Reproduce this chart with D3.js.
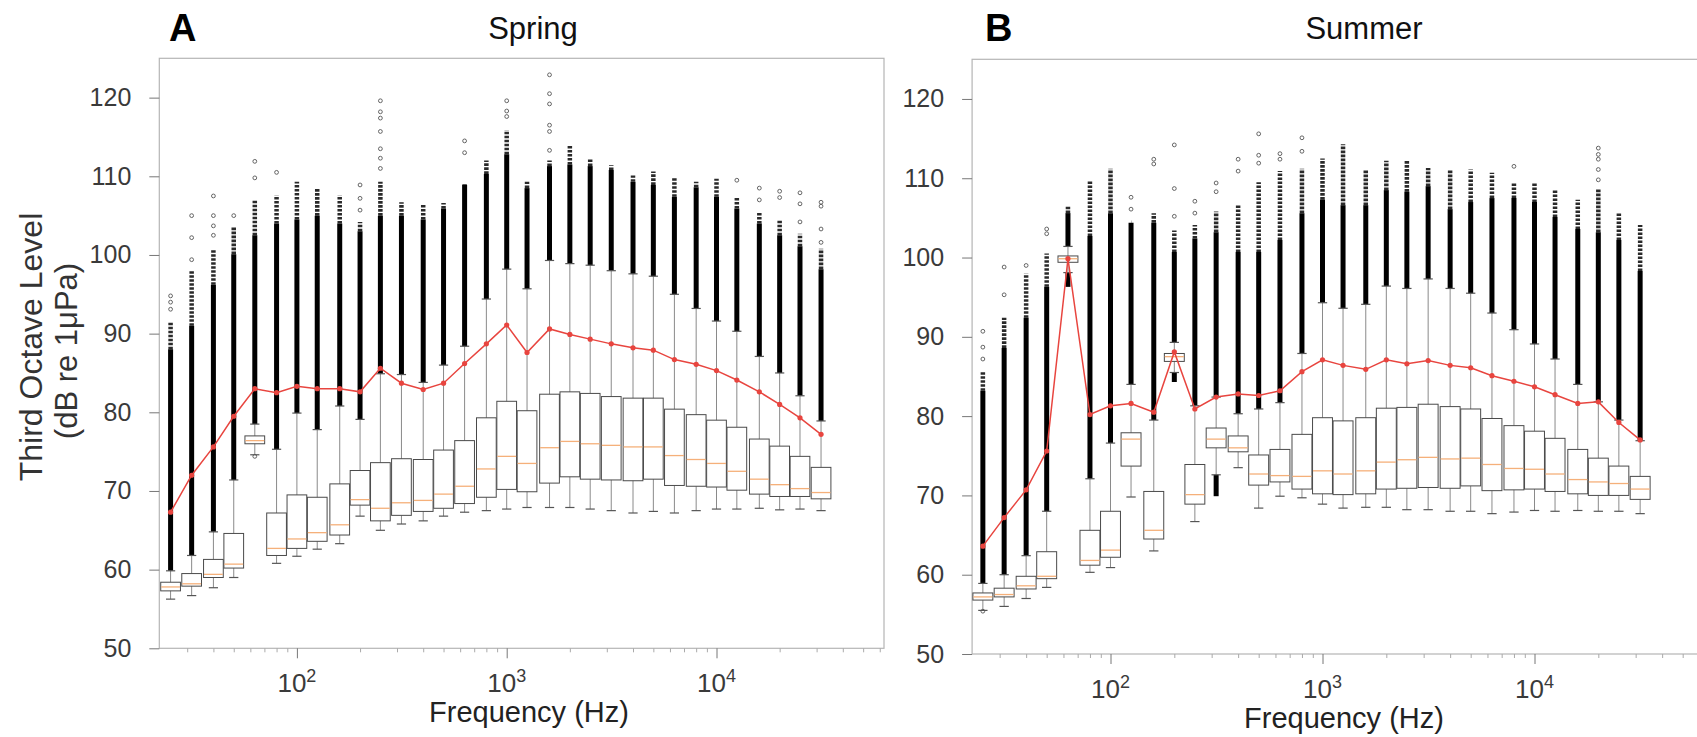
<!DOCTYPE html>
<html>
<head>
<meta charset="utf-8">
<script src="https://cdnjs.cloudflare.com/ajax/libs/d3/7.8.5/d3.min.js"></script>
<style>
body { margin: 0; background: #fff; }
svg { display: block; font-family: "Liberation Sans", Arial, Helvetica, sans-serif; }
</style>
</head>
<body>
<div id="chart"></div>
<script>
// third-octave band centre frequencies (Hz)
var freqs = [25, 31.5, 40, 50, 63, 80, 100, 125, 160, 200, 250, 315, 400, 500, 630, 800,
    1000, 1250, 1600, 2000, 2500, 3150, 4000, 5000, 6300, 8000, 10000, 12500, 16000, 20000, 25000, 31500];
var yTicks = [50, 60, 70, 80, 90, 100, 110, 120];
var xMajor = [100, 1000, 10000];

// Spring (dB re 1uPa)
var springLow  = [56.25, 56.7, 57.7, 59.0, 74.6, 60.8, 61.7, 62.6, 63.3, 66.8, 65.0, 65.8, 66.2, 66.8, 67.3, 67.5, 67.7, 67.9, 67.9, 67.9, 67.7, 67.5, 67.2, 67.4, 67.2, 67.5, 67.7, 67.7, 67.8, 67.6, 67.7, 67.5];
var springQ1   = [57.3, 57.9, 59.0, 60.2, 76.0, 61.8, 62.7, 63.6, 64.4, 68.2, 66.2, 66.9, 67.4, 67.8, 68.4, 69.2, 70.2, 69.9, 71.0, 71.8, 71.5, 71.4, 71.3, 71.5, 70.7, 70.6, 70.5, 70.1, 69.6, 69.3, 69.3, 69.0];
var springMed  = [57.8, 58.2, 59.4, 60.7, 76.4, 62.7, 63.9, 64.7, 65.7, 68.9, 67.8, 68.5, 68.8, 69.6, 70.6, 72.8, 74.4, 73.5, 75.5, 76.3, 76.0, 75.8, 75.6, 75.6, 74.5, 74.0, 73.5, 72.5, 71.5, 70.8, 70.3, 69.8];
var springQ3   = [58.4, 59.5, 61.3, 64.6, 77.0, 67.2, 69.5, 69.2, 70.9, 72.6, 73.6, 74.1, 74.0, 75.2, 76.4, 79.3, 81.4, 80.2, 82.3, 82.6, 82.4, 82.0, 81.8, 81.8, 80.4, 79.7, 79.0, 78.1, 76.6, 75.7, 74.4, 73.0];
var springHigh = [59.85, 61.8, 64.8, 71.4, 78.5, 75.3, 79.9, 77.8, 80.8, 79.1, 84.9, 84.8, 83.8, 86.0, 88.4, 94.4, 98.2, 95.7, 99.3, 98.9, 98.7, 98.0, 97.6, 97.3, 95.0, 93.2, 91.6, 90.3, 87.1, 85.0, 82.1, 78.9];
var springDense = [88.0, 91.0, 96.2, 100.1, 102.5, 104.0, 104.5, 105.0, 104.0, 103.0, 105.0, 105.0, 104.5, 105.9, 108.9, 110.3, 112.8, 108.5, 111.3, 111.5, 111.3, 110.8, 109.3, 108.9, 107.4, 108.6, 107.4, 105.9, 104.0, 102.5, 101.1, 98.2];
var springCirc = [91.4, 98.0, 100.6, 103.5, 107.0, 107.6, 109.3, 108.4, 107.6, 104.2, 109.3, 106.7, 106.4, 106.6, 109.0, 112.0, 115.9, 109.3, 112.0, 113.9, 112.2, 111.4, 110.1, 110.6, 109.8, 109.3, 109.7, 107.4, 105.5, 104.5, 102.7, 100.8];
var springMean = [67.3, 72.0, 75.6, 79.5, 83.0, 82.5, 83.3, 83.0, 83.0, 82.6, 85.6, 83.7, 82.9, 83.7, 86.2, 88.7, 91.1, 87.6, 90.6, 89.9, 89.3, 88.7, 88.2, 87.9, 86.7, 86.1, 85.3, 84.1, 82.6, 81.0, 79.3, 77.2];
var springOut = [[93.1, 94.0, 94.8], [99.4, 102.2, 105.0], [102.5, 103.7, 105.0, 107.5], [105.0], [109.8, 111.9], [110.5], [], [], [],
    [105.7, 107.2, 108.9], [111.0, 112.3, 113.5, 115.7, 117.4, 118.2, 119.6], [], [], [], [113.0, 114.5], [], [117.6, 118.3, 119.6], [],
    [113.3, 115.7, 116.5, 119.2, 120.5, 122.9], [], [], [], [], [], [], [], [], [109.5], [107.0, 108.5], [107.3, 108.1], [104.2, 106.5, 107.9], [101.6, 103.3, 106.2, 106.7]];
var springLowOut = [[4, 74.4]];
var springLowDense = [];

// Summer
var summerLow  = [55.5, 56.0, 57.0, 58.4, 98.1, 60.3, 60.9, 69.8, 63.0, 85.5, 66.7, 72.6, 73.5, 68.4, 69.9, 69.7, 68.9, 68.4, 68.5, 68.5, 68.2, 68.2, 68.0, 68.0, 67.7, 67.9, 68.1, 68.0, 68.1, 68.0, 68.0, 67.7];
var summerQ1   = [56.8, 57.2, 58.2, 59.5, 99.4, 61.2, 62.2, 73.7, 64.5, 86.9, 68.9, 76.0, 75.5, 71.3, 71.7, 70.8, 70.2, 70.1, 70.2, 70.8, 70.9, 71.0, 70.9, 71.2, 70.6, 70.7, 70.8, 70.5, 70.2, 70.0, 70.0, 69.5];
var summerMed  = [57.2, 57.5, 58.6, 59.8, 99.85, 61.8, 63.1, 77.1, 65.6, 87.5, 70.1, 77.1, 76.0, 72.7, 72.5, 72.4, 73.1, 72.7, 73.1, 74.2, 74.5, 74.8, 74.6, 74.7, 73.9, 73.4, 73.3, 72.7, 72.0, 71.7, 71.5, 70.8];
var summerQ3   = [57.7, 58.3, 59.8, 62.9, 100.2, 65.6, 68.0, 77.9, 70.5, 87.9, 73.9, 78.5, 77.5, 75.1, 75.8, 77.7, 79.8, 79.4, 79.8, 81.0, 81.1, 81.5, 81.2, 80.9, 79.7, 78.8, 78.1, 77.2, 75.8, 74.7, 73.7, 72.4];
var summerHigh = [58.9, 60.0, 62.4, 68.0, 101.4, 72.1, 76.6, 84.0, 79.5, 89.3, 81.3, 82.4, 80.3, 80.9, 81.7, 87.9, 94.3, 93.6, 94.1, 96.4, 96.1, 97.3, 96.1, 95.5, 93.0, 90.9, 89.1, 87.2, 84.0, 81.8, 79.5, 76.9];
var summerDense = [83.2, 88.6, 92.4, 96.3, 105.6, 102.7, 105.6, 104.4, 104.4, 100.7, 102.4, 103.2, 100.7, 100.7, 102.2, 105.6, 107.3, 106.6, 106.6, 108.5, 108.3, 109.0, 106.1, 107.0, 107.5, 107.5, 107.0, 105.1, 103.6, 103.2, 102.2, 98.3];
var summerCirc = [85.7, 92.4, 98.0, 100.5, 106.4, 109.7, 111.2, 104.4, 105.6, 103.4, 104.1, 105.8, 106.6, 109.5, 110.9, 111.2, 112.5, 114.3, 111.0, 112.2, 112.2, 111.3, 111.1, 111.1, 110.7, 109.5, 109.4, 108.5, 107.3, 108.7, 105.7, 104.1];
var summerMean = [63.6, 67.2, 70.7, 75.6, 99.85, 80.2, 81.3, 81.6, 80.5, 88.1, 80.9, 82.4, 82.8, 82.6, 83.2, 85.6, 87.1, 86.4, 85.9, 87.1, 86.6, 87.0, 86.4, 86.1, 85.1, 84.4, 83.7, 82.7, 81.6, 81.8, 79.2, 77.0];
var summerOut = [[87.2, 88.7, 90.7], [95.3, 98.8], [99.0], [103.0, 103.6], [], [], [], [106.1, 107.6], [111.8, 112.4],
    [105.2, 108.7, 114.2], [105.6, 107.1], [108.3, 109.4], [110.9, 112.4], [111.9, 112.9, 115.6], [112.4, 113.1], [113.4, 115.1],
    [], [], [], [], [], [], [], [], [], [111.5], [], [], [], [109.8, 111.1, 112.4, 113.0, 113.8], [], []];
var summerLowOut = [[0, 55.4]];
var summerLowDense = [[4, 96.3], [9, 84.3], [11, 69.9]];

var svg = d3.select("#chart").append("svg")
    .attr("width", 1697)
    .attr("height", 737);

svg.append("rect").attr("width", 1697).attr("height", 737).attr("fill", "#fff");

function drawPanel(p) {
    var x = d3.scaleLog()
        .domain([Math.pow(10, 2 + (p.left - p.at100) / p.decade), Math.pow(10, 2 + (p.right - p.at100) / p.decade)])
        .range([p.left, p.right]);
    var y = d3.scaleLinear().domain([50, 125]).range([p.bottom, p.top]);

    var g = svg.append("g");

    // frame
    g.append("rect")
        .attr("x", p.left).attr("y", p.top)
        .attr("width", p.right - p.left).attr("height", p.bottom - p.top)
        .attr("fill", "none").attr("stroke", "#b5b5b5").attr("stroke-width", 1.2);

    // y axis
    var yAxis = g.append("g")
        .attr("transform", "translate(" + p.left + ",0)")
        .call(d3.axisLeft(y).tickValues(yTicks).tickSize(10).tickPadding(18));
    yAxis.select(".domain").remove();
    yAxis.selectAll("line").attr("stroke", "#777");
    yAxis.selectAll("text").attr("font-size", 25).attr("fill", "#3a3a3a")
        .attr("font-family", "Liberation Sans, Arial, sans-serif");

    // x axis: minor ticks then major ticks
    var minor = x.ticks().filter(function(v) { return xMajor.indexOf(v) < 0; });
    var xMin = g.append("g")
        .attr("transform", "translate(0," + p.bottom + ")")
        .call(d3.axisBottom(x).tickValues(minor).tickSize(4).tickFormat(""));
    xMin.select(".domain").remove();
    xMin.selectAll("line").attr("stroke", "#aaa");

    var xMaj = g.append("g")
        .attr("transform", "translate(0," + p.bottom + ")")
        .call(d3.axisBottom(x).tickValues(xMajor).tickSize(10).tickFormat(""));
    xMaj.select(".domain").remove();
    xMaj.selectAll("line").attr("stroke", "#777");

    var lab = g.selectAll(".xlab").data(xMajor).enter().append("text")
        .attr("class", "xlab")
        .attr("x", function(d) { return x(d); })
        .attr("y", p.bottom + 44)
        .attr("text-anchor", "middle")
        .attr("font-size", 26)
        .attr("fill", "#3a3a3a");
    lab.append("tspan").text("10");
    lab.append("tspan").attr("font-size", 18).attr("dy", -10)
        .text(function(d) { return String(Math.round(Math.log10(d))); });

    var s = p.data;
    var bands = freqs.map(function(f, i) {
        return { f: f, lo: s.low[i], q1: s.q1[i], med: s.med[i], q3: s.q3[i], hi: s.high[i],
                 dense: s.dense[i], circ: s.circ[i], out: s.out[i] };
    });
    function xs(f, k) { return x(f * Math.pow(10, k)); }

    // whiskers
    g.selectAll(".wh").data(bands).enter().append("line")
        .attr("x1", function(d) { return x(d.f); }).attr("x2", function(d) { return x(d.f); })
        .attr("y1", function(d) { return y(d.lo); }).attr("y2", function(d) { return y(d.hi); })
        .attr("stroke", "#8a8a8a").attr("stroke-width", 1);

    // stacked outliers (semi dense) and solid outliers
    g.selectAll(".semi").data(bands).enter().append("line")
        .attr("x1", function(d) { return x(d.f); }).attr("x2", function(d) { return x(d.f); })
        .attr("y1", function(d) { return y(d.dense); }).attr("y2", function(d) { return y(d.circ); })
        .attr("stroke", "#2a2a2a").attr("stroke-width", 4.5).attr("stroke-dasharray", "2.6,1.4");
    g.selectAll(".dense").data(bands).enter().append("line")
        .attr("x1", function(d) { return x(d.f); }).attr("x2", function(d) { return x(d.f); })
        .attr("y1", function(d) { return y(d.hi); }).attr("y2", function(d) { return y(d.dense); })
        .attr("stroke", "#000").attr("stroke-width", 5);
    g.selectAll(".lowdense").data(s.lowDense).enter().append("line")
        .attr("x1", function(d) { return x(freqs[d[0]]); }).attr("x2", function(d) { return x(freqs[d[0]]); })
        .attr("y1", function(d) { return y(s.low[d[0]]); }).attr("y2", function(d) { return y(d[1]); })
        .attr("stroke", "#000").attr("stroke-width", 5);

    // sparse outliers
    var pts = [];
    bands.forEach(function(d) { d.out.forEach(function(v) { pts.push([d.f, v]); }); });
    s.lowOut.forEach(function(d) { pts.push([freqs[d[0]], d[1]]); });
    g.selectAll(".out").data(pts).enter().append("circle")
        .attr("cx", function(d) { return x(d[0]); })
        .attr("cy", function(d) { return y(d[1]); })
        .attr("r", 1.9)
        .attr("fill", "none").attr("stroke", "#555").attr("stroke-width", 0.9);

    // whisker caps
    ["lo", "hi"].forEach(function(k) {
        g.selectAll(".cap" + k).data(bands).enter().append("line")
            .attr("x1", function(d) { return xs(d.f, -0.022); }).attr("x2", function(d) { return xs(d.f, 0.022); })
            .attr("y1", function(d) { return y(d[k]); }).attr("y2", function(d) { return y(d[k]); })
            .attr("stroke", "#555").attr("stroke-width", 1.2);
    });

    // boxes
    g.selectAll(".box").data(bands).enter().append("rect")
        .attr("x", function(d) { return xs(d.f, -0.047); })
        .attr("width", function(d) { return xs(d.f, 0.047) - xs(d.f, -0.047); })
        .attr("y", function(d) { return y(d.q3); })
        .attr("height", function(d) { return y(d.q1) - y(d.q3); })
        .attr("fill", "#fff").attr("stroke", "#4a4a4a").attr("stroke-width", 1);
    g.selectAll(".med").data(bands).enter().append("line")
        .attr("x1", function(d) { return xs(d.f, -0.045); }).attr("x2", function(d) { return xs(d.f, 0.045); })
        .attr("y1", function(d) { return y(d.med); }).attr("y2", function(d) { return y(d.med); })
        .attr("stroke", "#f5b07a").attr("stroke-width", 1.3);

    // mean line
    var line = d3.line()
        .x(function(d, i) { return x(freqs[i]); })
        .y(function(d) { return y(d); });
    g.append("path").datum(s.mean)
        .attr("d", line)
        .attr("fill", "none").attr("stroke", "#e8453f").attr("stroke-width", 1.5);
    g.selectAll(".mean").data(s.mean).enter().append("circle")
        .attr("cx", function(d, i) { return x(freqs[i]); })
        .attr("cy", function(d) { return y(d); })
        .attr("r", 2.6).attr("fill", "#e8453f");

    // titles
    svg.append("text").attr("x", p.letterX).attr("y", 41)
        .attr("font-size", 38).attr("font-weight", "bold").attr("fill", "#000")
        .text(p.letter);
    svg.append("text").attr("x", p.titleX).attr("y", 39)
        .attr("text-anchor", "middle").attr("font-size", 31).attr("fill", "#111")
        .text(p.title);
    svg.append("text").attr("x", p.xLabelX).attr("y", p.xLabelY)
        .attr("text-anchor", "middle").attr("font-size", 29).attr("fill", "#222")
        .text("Frequency (Hz)");
}

drawPanel({
    left: 159.3, right: 884, at100: 296.9, decade: 209.8, top: 58.3, bottom: 648.3,
    letter: "A", letterX: 169, title: "Spring", titleX: 533, xLabelX: 529, xLabelY: 722,
    data: { low: springLow, q1: springQ1, med: springMed, q3: springQ3, high: springHigh, dense: springDense,
            circ: springCirc, mean: springMean, out: springOut, lowOut: springLowOut, lowDense: springLowDense }
});
drawPanel({
    left: 972.1, right: 1760, at100: 1110.5, decade: 212, top: 59.3, bottom: 654,
    letter: "B", letterX: 985, title: "Summer", titleX: 1364, xLabelX: 1344, xLabelY: 728,
    data: { low: summerLow, q1: summerQ1, med: summerMed, q3: summerQ3, high: summerHigh, dense: summerDense,
            circ: summerCirc, mean: summerMean, out: summerOut, lowOut: summerLowOut, lowDense: summerLowDense }
});

// y axis title (panel A only)
svg.append("text")
    .attr("transform", "translate(42,347) rotate(-90)")
    .attr("text-anchor", "middle").attr("font-size", 32).attr("fill", "#333")
    .text("Third Octave Level");
svg.append("text")
    .attr("transform", "translate(77,351) rotate(-90)")
    .attr("text-anchor", "middle").attr("font-size", 31).attr("fill", "#333")
    .text("(dB re 1\u03bcPa)");
</script>
</body>
</html>
